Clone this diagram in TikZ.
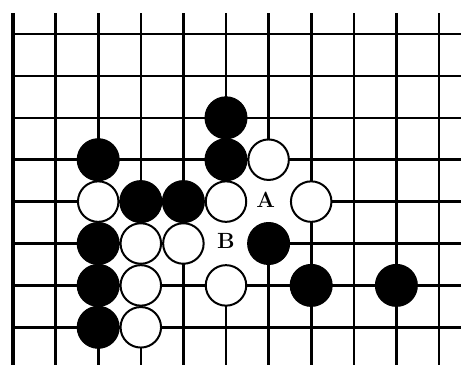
\documentclass[tikz,border=0pt]{standalone}
\usepackage{fontspec}
\begin{document}
\begin{tikzpicture}[x=1pt,y=-1pt,
  gridline/.style={line width=2.6pt},
  edgeline/.style={line width=4pt},
  bstone/.style={circle,fill=black,draw=black,line width=1pt,minimum size=42pt,inner sep=0pt},
  wstone/.style={circle,fill=white,draw=black,line width=2pt,minimum size=40.5pt,inner sep=0pt},
  patch/.style={circle,fill=white,inner sep=0pt,minimum size=46pt},
  lab/.style={inner sep=0pt,font=\bfseries\fontsize{22pt}{22pt}\selectfont}]
\useasboundingbox (0,0) rectangle (461,365);
\fill[white] (0,0) rectangle (461,365);
% grid
\foreach \i in {1,...,10} {
  \draw[gridline] ({13+42.6*\i},13) -- ({13+42.6*\i},365);
}
\foreach \j in {0,...,7} {
  \draw[gridline] (13,{34+41.9*\j}) -- (461,{34+41.9*\j});
}
\draw[edgeline] (13,13) -- (13,365);
\newcommand{\gx}[1]{13+42.6*#1}
\newcommand{\gy}[1]{34+41.9*#1}
% white patches hide the grid around the labelled points
\node[patch] (pA) at ({\gx{6}},{\gy{4}}) {};
\node[patch] (pB) at ({\gx{5}},{\gy{5}}) {};
% stones
\node[bstone] (b1) at ({\gx{5}},{\gy{2}}) {};
\node[bstone] (b2) at ({\gx{5}},{\gy{3}}) {};
\node[wstone] (w1) at ({\gx{6}},{\gy{3}}) {};
\node[bstone] (b3) at ({\gx{2}},{\gy{3}}) {};
\node[wstone] (w2) at ({\gx{2}},{\gy{4}}) {};
\node[bstone] (b4) at ({\gx{3}},{\gy{4}}) {};
\node[bstone] (b5) at ({\gx{4}},{\gy{4}}) {};
\node[wstone] (w3) at ({\gx{5}},{\gy{4}}) {};
\node[wstone] (w4) at ({\gx{7}},{\gy{4}}) {};
\node[bstone] (b6) at ({\gx{2}},{\gy{5}}) {};
\node[wstone] (w5) at ({\gx{3}},{\gy{5}}) {};
\node[wstone] (w6) at ({\gx{4}},{\gy{5}}) {};
\node[bstone] (b7) at ({\gx{6}},{\gy{5}}) {};
\node[bstone] (b8) at ({\gx{2}},{\gy{6}}) {};
\node[wstone] (w7) at ({\gx{3}},{\gy{6}}) {};
\node[wstone] (w8) at ({\gx{5}},{\gy{6}}) {};
\node[bstone] (b9) at ({\gx{7}},{\gy{6}}) {};
\node[bstone] (b10) at ({\gx{9}},{\gy{6}}) {};
\node[bstone] (b11) at ({\gx{2}},{\gy{7}}) {};
\node[wstone] (w9) at ({\gx{3}},{\gy{7}}) {};
% labels
\node[lab] (A) at ({\gx{6}-3},{\gy{4}-2}) {A};
\node[lab] (B) at ({\gx{5}},{\gy{5}-3}) {B};
\end{tikzpicture}
\end{document}
